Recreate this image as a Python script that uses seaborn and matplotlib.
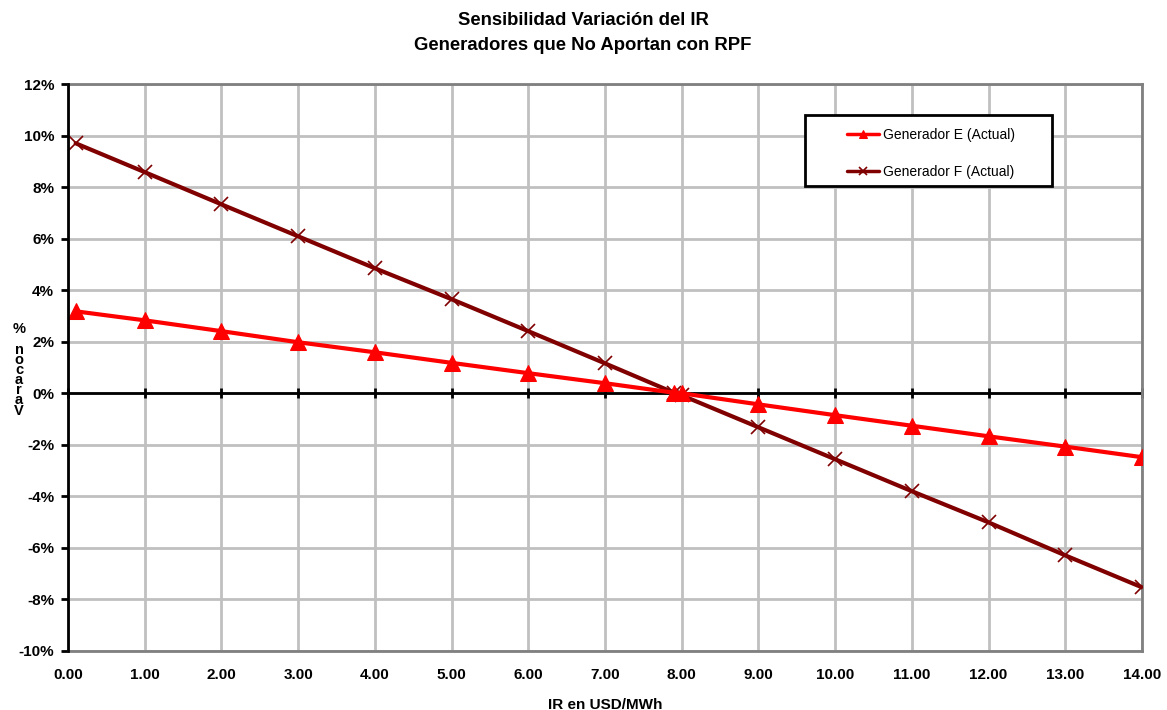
import matplotlib
matplotlib.use("Agg")
import matplotlib.pyplot as plt
import seaborn as sns
import pandas as pd
from matplotlib.ticker import FuncFormatter
from matplotlib.patches import Rectangle

# Data
ir = [0.1, 1, 2, 3, 4, 5, 6, 7, 7.9, 8, 9, 10, 11, 12, 13, 14]
gen_e = [3.18, 2.83, 2.41, 1.98, 1.59, 1.18, 0.78, 0.39, 0.02, 0.0, -0.43, -0.85, -1.26, -1.67, -2.07, -2.48]
gen_f = [9.70, 8.58, 7.33, 6.09, 4.85, 3.65, 2.41, 1.16, 0.02, -0.08, -1.32, -2.56, -3.80, -5.01, -6.29, -7.53]
series_names = ["Generador E (Actual)", "Generador F (Actual)"]
x_ticks = list(range(0, 15))
y_ticks = list(range(-10, 13, 2))
title = "Sensibilidad Variación del IR\nGeneradores que No Aportan con RPF"
x_label = "IR en USD/MWh"
y_label = "Varacon %"

sns.set_theme(style="white")
plt.rcParams['font.family'] = ['Liberation Sans', 'DejaVu Sans']
for k in ["text.color", "axes.labelcolor", "xtick.color", "ytick.color"]:
    plt.rcParams[k] = "black"

fig = plt.figure(figsize=(11.67, 7.10), dpi=100)
ax = fig.add_axes([68/1167, 1-651/710, (1142-68)/1167, (651-84)/710])

df_e = pd.DataFrame({"x": ir, "y": gen_e})
df_f = pd.DataFrame({"x": ir, "y": gen_f})
sns.lineplot(data=df_e, x="x", y="y", ax=ax, color="#ff0000", linewidth=3,
             marker="^", markersize=11, markeredgecolor="#ff0000", sort=False,
             label=series_names[0], zorder=4)
sns.lineplot(data=df_f, x="x", y="y", ax=ax, color="#800000", linewidth=3,
             marker="x", markersize=10, markeredgewidth=1.2, markeredgecolor="#800000",
             sort=False, label=series_names[1], zorder=3)

ax.set_xlim(0, 14)
ax.set_ylim(-10, 12)
ax.set_xticks(x_ticks)
ax.set_yticks(y_ticks)
ax.xaxis.set_major_formatter(FuncFormatter(lambda v, p: f"{v:.2f}"))
ax.yaxis.set_major_formatter(FuncFormatter(lambda v, p: f"{v:.0f}%"))
ax.grid(True, color="#c0c0c0", linewidth=2)
ax.set_axisbelow(True)

for s in ["top", "right", "bottom"]:
    ax.spines[s].set_color("#808080")
    ax.spines[s].set_linewidth(2)
ax.spines["left"].set_color("black")
ax.spines["left"].set_linewidth(2)
ax.spines["left"].set_zorder(5)

ax.tick_params(axis="y", which="major", direction="out", length=5, width=2,
               color="black", labelsize=11, pad=5, left=True)
ax.tick_params(axis="x", which="major", length=0, labelsize=11, pad=12)
for lab in ax.get_xticklabels() + ax.get_yticklabels():
    lab.set_fontweight("bold")

# zero line with tick marks
ax.axhline(0, color="black", linewidth=2, zorder=2)
ax.plot(x_ticks, [0] * len(x_ticks), linestyle="none", marker="|", markersize=7,
        markeredgewidth=2, color="black", zorder=2, clip_on=False)

ax.set_xlabel(x_label, fontsize=11, fontweight="bold", labelpad=12)
ax.set_ylabel("")

# legend with custom frame
ax.add_patch(Rectangle((0.686, 0.820), 0.230, 0.125, transform=ax.transAxes,
                       facecolor="white", edgecolor="black", linewidth=2, zorder=9))
leg = ax.legend(loc="upper left", bbox_to_anchor=(0.725, 0.922), frameon=False,
                fontsize=10, labelspacing=1.65, handlelength=2.35, borderaxespad=0,
                borderpad=0, handletextpad=0.3)
leg.set_zorder(10)
for h in leg.legend_handles:
    h.set_linewidth(2.5)
    h.set_markersize(6)

fig.suptitle(title, fontsize=13.3, fontweight="bold", y=0.983, x=583/1167, linespacing=1.6)

fig.text(19/1167, 1-370/710, "\n".join(reversed(y_label)), ha="center", va="center",
         fontsize=10.5, fontweight="bold", linespacing=0.65)

fig.savefig("out.png", dpi=100, facecolor="white")
